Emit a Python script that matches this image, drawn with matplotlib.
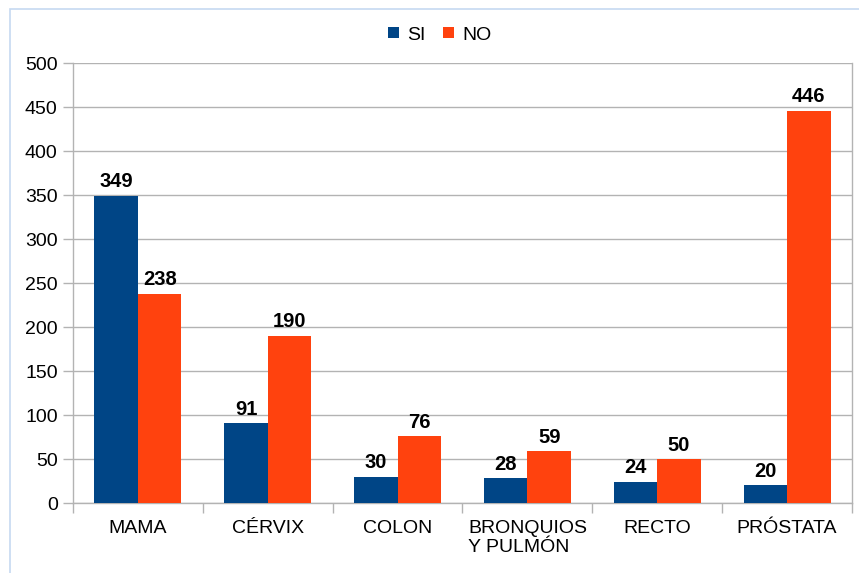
import matplotlib
matplotlib.use("Agg")
import matplotlib.pyplot as plt
import numpy as np
from matplotlib.patches import Rectangle

categories = ["MAMA", "CÉRVIX", "COLON", "BRONQUIOS\nY PULMÓN", "RECTO", "PRÓSTATA"]
si_values = [349, 91, 30, 28, 24, 20]
no_values = [238, 190, 76, 59, 50, 446]
series_names = ["SI", "NO"]
colors = ["#004586", "#ff420e"]

plt.rcParams['font.family'] = ['Liberation Sans', 'DejaVu Sans']

fig = plt.figure(figsize=(8.59, 5.73), dpi=100)
ax = fig.add_axes([73/859, 1-503/573, (852-73)/859, (503-63)/573])

# chart border (extends past right and bottom edges)
fig.patches.append(Rectangle((10/859, -0.1), 1.2, 1.1-9/573, transform=fig.transFigure,
                             fill=False, edgecolor="#c6d9f1", linewidth=1.2))

x = np.arange(len(categories))
w = 0.335
b1 = ax.bar(x - w/2, si_values, w, color=colors[0], label=series_names[0], zorder=3)
b2 = ax.bar(x + w/2, no_values, w, color=colors[1], label=series_names[1], zorder=3)
for bars in (b1, b2):
    for r in bars:
        ax.text(r.get_x() + r.get_width()/2, r.get_height() + 5, str(int(r.get_height())),
                ha='center', va='bottom', fontsize=14.5, fontweight='bold', color='black')

ax.set_xlim(-0.5, len(categories) - 0.5)
ax.set_ylim(0, 500)
ax.set_yticks(np.arange(0, 501, 50))
ax.yaxis.grid(True, color='#b3b3b3', linewidth=1, zorder=0)
ax.set_xticks(x)
ax.set_xticklabels(categories, multialignment='left', linespacing=1.2)
ax.set_xticks(np.arange(-0.5, len(categories), 1), minor=True)
ax.tick_params(axis='x', which='major', length=0, pad=12, labelsize=14)
ax.tick_params(axis='x', which='minor', length=7, color='#b3b3b3', width=1)
ax.tick_params(axis='y', length=7, color='#b3b3b3', width=1, labelsize=14, pad=4)
ax.spines['top'].set_visible(False)
for s in ['left', 'bottom', 'right']:
    ax.spines[s].set_color('#b3b3b3')
    ax.spines[s].set_linewidth(1)

leg = fig.legend(loc='center', bbox_to_anchor=(440/859, 1-35/573), ncol=2, frameon=False,
                 fontsize=14, handlelength=0.55, handleheight=0.55, handletextpad=0.45,
                 columnspacing=0.9)

fig.savefig("out.png", dpi=100)
